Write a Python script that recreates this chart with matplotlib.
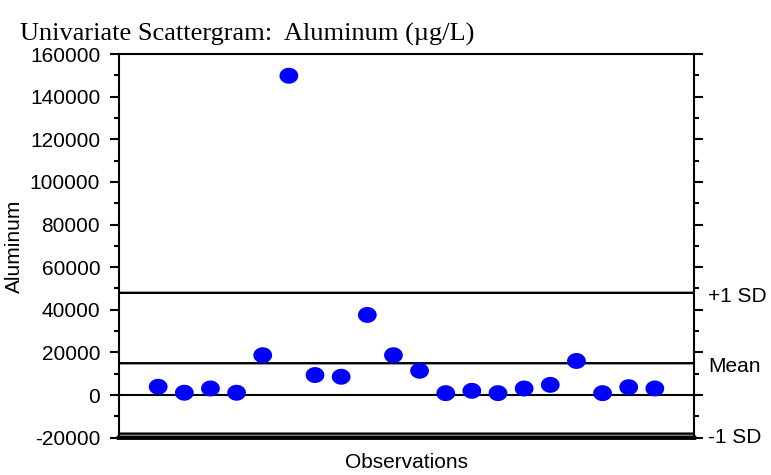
import matplotlib
matplotlib.use("Agg")
import matplotlib.pyplot as plt
import matplotlib.transforms as mtransforms
import numpy as np
from matplotlib.path import Path
from matplotlib.ticker import MultipleLocator

# aluminum results, one per observation (ug/L)
observations = list(range(1, 21))
aluminum = [3900, 1100, 3100, 1100, 18700, 149800, 9400, 8600, 37600, 18700,
            11400, 900, 2000, 900, 3100, 4800, 16000, 900, 3700, 3100]

mean_val = np.mean(aluminum)
sd_val = np.std(aluminum, ddof=1)
ref_lines = [mean_val + sd_val, mean_val, mean_val - sd_val]
ref_labels = ['+1 SD', 'Mean', '-1 SD']

plt.rcParams['font.family'] = ['Liberation Sans', 'DejaVu Sans']
plt.rcParams['axes.unicode_minus'] = False

# slightly flattened dot
theta = np.linspace(0, 2 * np.pi, 60)
oval = Path(np.column_stack([np.cos(theta), 0.85 * np.sin(theta)]))

fig = plt.figure(figsize=(7.71, 4.75), dpi=100)
ax = fig.add_axes([0.1543, 0.0785, 0.9002 - 0.1543, 0.8863 - 0.0785])

ax.scatter(observations, aluminum, marker=oval, s=13.5 ** 2, color='#0000ff',
           edgecolors='none', zorder=3)

label_trans = mtransforms.offset_copy(ax.get_yaxis_transform(), fig=fig,
                                      y=-2.5, units='points')
ax.axhline(0, color='black', lw=1.5, zorder=2)
for val, lab in zip(ref_lines, ref_labels):
    ax.axhline(val, color='black', lw=1.7, zorder=2, snap=False)
    ax.text(1.024, val, lab, transform=label_trans,
            ha='left', va='center', fontsize=15)

ax.set_xlim(-0.5, 21.5)
ax.set_ylim(-20000, 160000)
ax.yaxis.set_major_locator(MultipleLocator(20000))
ax.yaxis.set_minor_locator(MultipleLocator(10000))
ax.set_xticks([])

ax.tick_params(axis='y', which='both', direction='out', left=True, right=True,
               labelright=False, width=1.5, labelsize=15, pad=7)
ax.tick_params(axis='y', which='major', length=6.5)
ax.tick_params(axis='y', which='minor', length=3.5)

for side in ['left', 'right', 'top']:
    ax.spines[side].set_linewidth(1.5)
# the -1 SD line runs right along the bottom edge; a heavier spine closes the gap
ax.spines['bottom'].set_linewidth(3.2)
ax.spines['bottom'].set_snap(False)

ax.set_ylabel('Aluminum', fontsize=15, labelpad=4)
ax.set_xlabel('Observations', fontsize=15, labelpad=11)

fig.text(20 / 771, 1 - 34 / 475, 'Univariate Scattergram:  Aluminum (\u00b5g/L)',
         family=['Liberation Serif', 'DejaVu Serif'], fontsize=19, va='center', ha='left')

fig.savefig('out.png', dpi=100)
